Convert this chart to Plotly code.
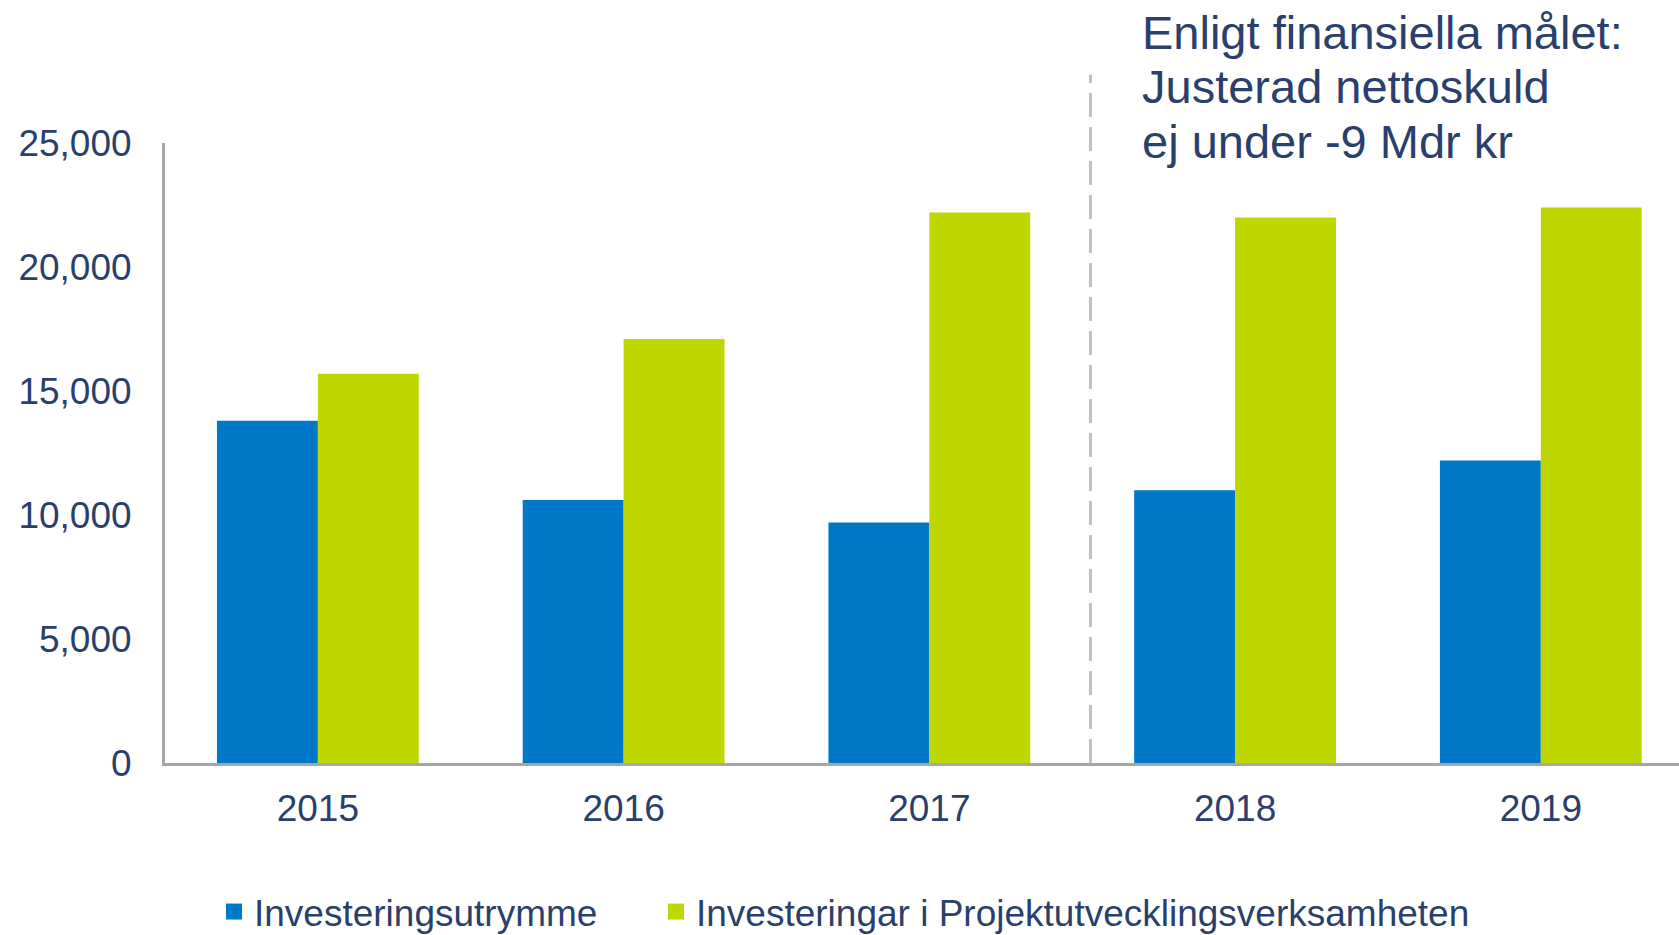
import plotly.graph_objects as go

years = ["2015", "2016", "2017", "2018", "2019"]
utrymme = [13800, 10600, 9700, 11000, 12200]
investeringar = [15700, 17100, 22200, 22000, 22400]
series_names = ["Investeringsutrymme", "Investeringar i Projektutvecklingsverksamheten"]
y_ticks = [0, 5000, 10000, 15000, 20000, 25000]
y_tick_labels = ["0", "5,000", "10,000", "15,000", "20,000", "25,000"]
note_lines = ["Enligt finansiella målet:", "Justerad nettoskuld", "ej under -9 Mdr kr"]
divider_pos = 2.527  # category-axis position of the dashed separator (between 2017 and 2018)

BLUE = "#0078C8"
GREEN = "#BFD700"
NAVY = "#2B3F6C"
FONT = "Arial, Liberation Sans, sans-serif"

W, H = 1679, 935
X_RANGE = [-0.5, 4.452]

fig = go.Figure()
fig.add_trace(go.Bar(x=years, y=utrymme, name=series_names[0], marker_color=BLUE,
                     marker_line_width=0, showlegend=False))
fig.add_trace(go.Bar(x=years, y=investeringar, name=series_names[1], marker_color=GREEN,
                     marker_line_width=0, showlegend=False))
# legend entries with square symbols, each in its own legend box
for nm, col, lg in zip(series_names, [BLUE, GREEN], ["legend", "legend2"]):
    fig.add_trace(go.Scatter(x=[None], y=[None], mode="markers", name=nm, legend=lg,
                             marker=dict(symbol="square", size=18, color=col)))

legend_common = dict(orientation="h", xref="container", yref="container",
                     y=1 - 912 / H, xanchor="left", yanchor="middle",
                     font=dict(size=37, color=NAVY, family=FONT),
                     bgcolor="rgba(0,0,0,0)")

fig.update_layout(
    width=W, height=H,
    margin=dict(l=165, r=0, t=143, b=172),
    paper_bgcolor="white", plot_bgcolor="white",
    barmode="group", bargap=0.34, bargroupgap=0,
    font=dict(family=FONT, color=NAVY, size=37),
    showlegend=True,
    legend=dict(x=214 / W, **legend_common),
    legend2=dict(x=656 / W, **legend_common),
)
fig.update_xaxes(type="category", categoryorder="array", categoryarray=years,
                 range=X_RANGE, showline=True, linecolor="#A6A6A6", linewidth=3,
                 showgrid=False, zeroline=False, ticks="outside", ticklen=11,
                 tickcolor="rgba(0,0,0,0)", tickfont=dict(size=37, color=NAVY))
fig.update_yaxes(range=[0, 25000], tickvals=y_ticks, ticktext=y_tick_labels,
                 showline=True, linecolor="#A6A6A6", linewidth=3, showgrid=False,
                 zeroline=False, ticks="outside", ticklen=23, tickcolor="rgba(0,0,0,0)",
                 tickfont=dict(size=37, color=NAVY))

xdiv = (divider_pos - X_RANGE[0]) / (X_RANGE[1] - X_RANGE[0])
fig.add_shape(type="line", xref="paper", yref="paper", x0=xdiv, x1=xdiv, y0=0, y1=1.11,
              line=dict(color="#C0C0C0", width=3, dash="24px,10px"))

for txt, yy in zip(note_lines, [1.1790, 1.0905, 1.0020]):
    fig.add_annotation(text=txt, xref="paper", yref="paper", x=(1141 - 165) / 1514, y=yy,
                       xanchor="left", yanchor="middle", showarrow=False, borderpad=0,
                       font=dict(size=47, color=NAVY, family=FONT))

fig.write_html("out.html", config={"displayModeBar": False},
               post_script="document.body.style.margin='0px';")
